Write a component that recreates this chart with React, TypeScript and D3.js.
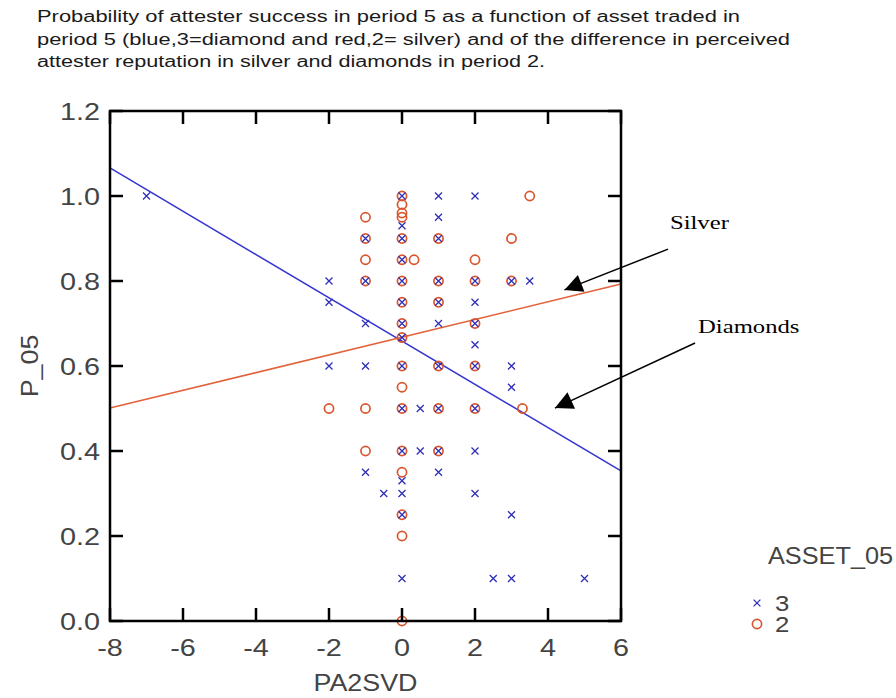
import * as d3 from 'd3';

// asset 3 (diamonds, blue x)
const diamondX = [-7, -2, -2, -2, -1, -1, -1, -1, -1, -0.5,
  0, 0, 0, 0, 0, 0, 0, 0, 0, 0, 0, 0, 0, 0, 0,
  0.5, 0.5, 1, 1, 1, 1, 1, 1, 1, 1, 1, 1,
  2, 2, 2, 2, 2, 2, 2, 2, 2, 2.5, 3, 3, 3, 3, 3, 3.5, 5];
const diamondY = [1.0, 0.8, 0.75, 0.6, 0.9, 0.8, 0.7, 0.6, 0.35, 0.3,
  1.0, 0.93, 0.9, 0.85, 0.8, 0.75, 0.7, 0.667, 0.6, 0.5, 0.4, 0.33, 0.3, 0.25, 0.1,
  0.5, 0.4, 1.0, 0.95, 0.9, 0.8, 0.75, 0.7, 0.6, 0.5, 0.4, 0.35,
  1.0, 0.8, 0.75, 0.7, 0.65, 0.6, 0.5, 0.4, 0.3, 0.1, 0.8, 0.6, 0.55, 0.25, 0.1, 0.8, 0.1];

// asset 2 (silver, red o)
const silverX = [-2, -1, -1, -1, -1, -1, -1,
  0, 0, 0, 0, 0, 0, 0, 0, 0, 0, 0, 0, 0, 0, 0, 0, 0, 0,
  0.33, 1, 1, 1, 1, 1, 1, 2, 2, 2, 2, 2, 3, 3, 3.3, 3.5];
const silverY = [0.5, 0.95, 0.9, 0.85, 0.8, 0.5, 0.4,
  1.0, 0.98, 0.96, 0.95, 0.9, 0.85, 0.8, 0.75, 0.7, 0.667, 0.6, 0.55, 0.5, 0.4, 0.35, 0.25, 0.2, 0.0,
  0.85, 0.9, 0.8, 0.75, 0.6, 0.5, 0.4, 0.85, 0.8, 0.7, 0.6, 0.5, 0.9, 0.8, 0.5, 1.0];

// fitted lines, value at x = -8 and x = 6
const fitX = [-8, 6];
const diamondFit = [1.066, 0.353];
const silverFit = [0.501, 0.793];

const xTicks = [-8, -6, -4, -2, 0, 2, 4, 6];
const yTicks = [0, 0.2, 0.4, 0.6, 0.8, 1.0, 1.2];

const titleLines = [
  'Probability of attester success in period 5 as a function of asset traded in',
  'period 5 (blue,3=diamond and red,2= silver) and of the difference in perceived',
  'attester reputation in silver and diamonds in period 2.',
];
const titleWidths = [703, 753, 508];

// arrow annotations in data units
const notes = [
  { label: 'Silver', tx: 7.34, ty: 0.922, fromX: 7.29, fromY: 0.875, toX: 4.45, toY: 0.779 },
  { label: 'Diamonds', tx: 8.11, ty: 0.678, fromX: 8.03, fromY: 0.654, toX: 4.19, toY: 0.501 },
];

const SANS = '"Liberation Sans", Arial, sans-serif';
const SERIF = '"Liberation Serif", "Times New Roman", serif';
const BLUE = '#2e2eb8';
const RED = '#d9562e';
const LABEL = '#444';

function SText({ x, y, children, sx = 1.2, size = 24, anchor = 'start', rotate = 0, fill = LABEL, family = SANS }: any) {
  return (
    <text
      transform={`translate(${x},${y}) rotate(${rotate}) scale(${sx},1)`}
      textAnchor={anchor}
      fontFamily={family}
      fontSize={size}
      fill={fill}
    >
      {children}
    </text>
  );
}

function Cross({ x, y, s = 3.5 }: { x: number; y: number; s?: number }) {
  return (
    <path d={`M${x - s},${y - s}L${x + s},${y + s}M${x - s},${y + s}L${x + s},${y - s}`} stroke={BLUE} strokeWidth={1.3} />
  );
}

export default function App() {
  const left = 110, right = 621, top = 111, bottom = 621;
  const x = d3.scaleLinear().domain([-8, 6]).range([left, right]);
  const y = d3.scaleLinear().domain([0, 1.2]).range([bottom, top]);
  const tick = 13;

  const line = d3.line<number>().x((_, i) => x(fitX[i])).y((d) => y(d));

  return (
    <svg width={896} height={698} style={{ position: 'absolute', left: 0, top: 0, background: '#fff' }}>
      {titleLines.map((t, i) => (
        <text
          key={t}
          x={37}
          y={22 + i * 22.5}
          fontFamily={SANS}
          fontSize={16}
          fill="#1a1a1a"
          textLength={titleWidths[i]}
          lengthAdjust="spacingAndGlyphs"
        >
          {t}
        </text>
      ))}

      {/* fitted lines */}
      <path d={line(diamondFit) || ''} fill="none" stroke="#3535d0" strokeWidth={1.5} />
      <path d={line(silverFit) || ''} fill="none" stroke="#e2623c" strokeWidth={1.5} />

      {/* points */}
      {silverX.map((d, i) => (
        <circle key={'s' + i} cx={x(d)} cy={y(silverY[i])} r={4.6} fill="none" stroke={RED} strokeWidth={1.7} />
      ))}
      {diamondX.map((d, i) => (
        <Cross key={'d' + i} x={x(d)} y={y(diamondY[i])} />
      ))}

      {/* frame + inward ticks */}
      <rect x={left} y={top} width={right - left} height={bottom - top} fill="none" stroke="#000" strokeWidth={2.5} />
      {xTicks.map((t) => (
        <g key={'xt' + t} stroke="#000" strokeWidth={2.5}>
          <line x1={x(t)} x2={x(t)} y1={bottom} y2={bottom - tick} />
          <line x1={x(t)} x2={x(t)} y1={top} y2={top + tick} />
        </g>
      ))}
      {yTicks.map((t) => (
        <g key={'yt' + t} stroke="#000" strokeWidth={2.5}>
          <line x1={left} x2={left + tick} y1={y(t)} y2={y(t)} />
          <line x1={right} x2={right - tick} y1={y(t)} y2={y(t)} />
        </g>
      ))}

      {/* tick labels */}
      {xTicks.map((t) => (
        <SText key={'xl' + t} x={x(t)} y={656} anchor="middle">
          {String(t)}
        </SText>
      ))}
      {yTicks.map((t) => (
        <SText key={'yl' + t} x={100} y={y(t) + 9} anchor="end">
          {t.toFixed(1)}
        </SText>
      ))}
      <SText x={(left + right) / 2} y={691} anchor="middle" sx={1.12}>PA2SVD</SText>
      <SText x={38} y={366} anchor="middle" rotate={-90} sx={1.12}>P_05</SText>

      {/* legend */}
      <SText x={768} y={564} size={23} sx={1.1}>ASSET_05</SText>
      <Cross x={757} y={603} s={3.4} />
      <SText x={775} y={611} size={23} sx={1.12}>3</SText>
      <circle cx={757} cy={624} r={4.6} fill="none" stroke={RED} strokeWidth={1.7} />
      <SText x={775} y={632} size={23} sx={1.12}>2</SText>

      {/* annotations */}
      <defs>
        <marker id="ah" viewBox="0 0 10 10" refX={10} refY={5} markerWidth={22} markerHeight={18} markerUnits="userSpaceOnUse" orient="auto">
          <path d="M0,0L10,5L0,10z" fill="#000" />
        </marker>
      </defs>
      {notes.map((n) => (
        <g key={n.label}>
          <line x1={x(n.fromX)} y1={y(n.fromY)} x2={x(n.toX)} y2={y(n.toY)} stroke="#000" strokeWidth={1.5} markerEnd="url(#ah)" />
          <SText x={x(n.tx)} y={y(n.ty)} family={SERIF} size={19} sx={1.3} fill="#000">
            {n.label}
          </SText>
        </g>
      ))}
    </svg>
  );
}
